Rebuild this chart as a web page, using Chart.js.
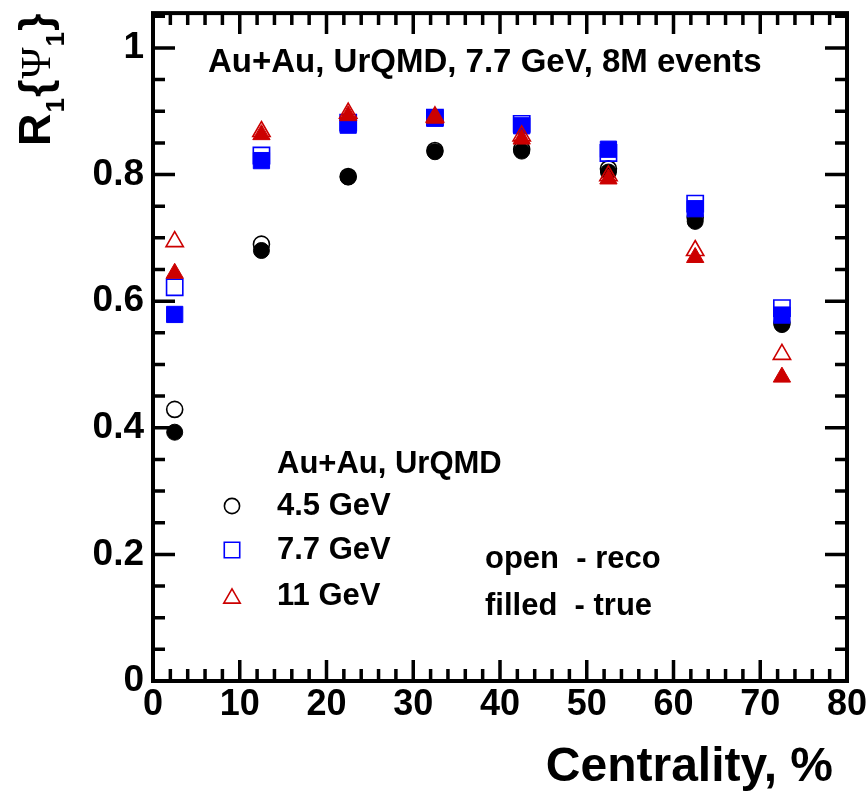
<!DOCTYPE html>
<html><head><meta charset="utf-8">
<script src="https://cdn.jsdelivr.net/npm/chart.js@4.4.1/dist/chart.umd.min.js"></script>
<style>html,body{margin:0;padding:0;background:#fff;}canvas{display:block;}</style>
</head><body>
<canvas id="c" width="868" height="792"></canvas>
<script>
// ---- data ----
const centrality = [2.5, 12.5, 22.5, 32.5, 42.5, 52.5, 62.5, 72.5];
const reco45 = [0.429, 0.690, 0.797, 0.838, 0.840, 0.809, 0.732, 0.566];
const true45 = [0.393, 0.680, 0.796, 0.836, 0.837, 0.804, 0.726, 0.563];
const reco77 = [0.622, 0.830, 0.882, 0.890, 0.880, 0.834, 0.754, 0.589];
const true77 = [0.579, 0.822, 0.878, 0.889, 0.877, 0.840, 0.746, 0.578];
const reco11 = [0.694, 0.868, 0.897, 0.891, 0.861, 0.798, 0.680, 0.516];
const true11 = [0.644, 0.863, 0.893, 0.889, 0.856, 0.793, 0.669, 0.480];
const seriesLabels = ['4.5 GeV', '7.7 GeV', '11 GeV'];
const xTickValues = [0, 10, 20, 30, 40, 50, 60, 70, 80];
const yTickValues = [0, 0.2, 0.4, 0.6, 0.8, 1];
const yTickLabels = ['0', '0.2', '0.4', '0.6', '0.8', '1'];
const xTitle = 'Centrality, %';
const plotTitle = 'Au+Au, UrQMD, 7.7 GeV, 8M events';
const legendHeader = 'Au+Au, UrQMD';
const noteLines = ['open  - reco', 'filled  - true'];

// ---- styles ----
const FONT = '"Liberation Sans", Arial, Helvetica, sans-serif';
const BLACK = '#000000', BLUE = '#0000ff', RED = '#cc0000';
const colors = [BLACK, BLUE, RED];
const styles = ['circle', 'rect', 'triangle'];
const radii = [8, 11.5, 10];

function pts(arr) { return centrality.map((x, i) => ({x: x, y: arr[i]})); }
function ds(label, arr, k, filled, order) {
  return {
    label: label, data: pts(arr), order: order,
    pointStyle: styles[k], pointRadius: radii[k], pointHoverRadius: radii[k],
    borderColor: colors[k], backgroundColor: filled ? colors[k] : 'rgba(0,0,0,0)',
    pointBorderWidth: filled ? 1 : 1.6, pointHoverBorderWidth: filled ? 1 : 1.6,
    showLine: false
  };
}
const datasets = [
  ds(seriesLabels[0] + ' true', true45, 0, true, 6),
  ds(seriesLabels[0] + ' reco', reco45, 0, false, 5),
  ds(seriesLabels[1] + ' true', true77, 1, true, 4),
  ds(seriesLabels[1] + ' reco', reco77, 1, false, 3),
  ds(seriesLabels[2] + ' true', true11, 2, true, 2),
  ds(seriesLabels[2] + ' reco', reco11, 2, false, 1)
];

// frame + inward ticks on all four sides
const framePlugin = {
  id: 'frameTicks',
  beforeDatasetsDraw(chart) {
    const {ctx, chartArea: a, scales: {x, y}} = chart;
    ctx.save();
    ctx.strokeStyle = '#000';
    ctx.lineWidth = 3.5;
    ctx.lineCap = 'butt';
    ctx.beginPath();
    for (let i = 0; i <= 40; i++) {
      const v = i * 2;
      const px = x.getPixelForValue(v);
      const len = (v % 10 === 0) ? 21 : 12;
      ctx.moveTo(px, a.bottom); ctx.lineTo(px, a.bottom - len);
      ctx.moveTo(px, a.top); ctx.lineTo(px, a.top + len);
    }
    for (let i = 0; i <= 21; i++) {
      const v = i * 0.05;
      if (v > y.max) break;
      const py = y.getPixelForValue(v);
      const len = (i % 4 === 0) ? 22 : 12;
      ctx.moveTo(a.left, py); ctx.lineTo(a.left + len, py);
      ctx.moveTo(a.right, py); ctx.lineTo(a.right - len, py);
    }
    ctx.stroke();
    ctx.lineWidth = 4;
    ctx.lineJoin = 'miter';
    ctx.strokeRect(a.left, a.top, a.right - a.left, a.bottom - a.top);
    ctx.restore();
  }
};

function txt(ctx, s, x, yc, size, align) {
  ctx.font = 'bold ' + size + 'px ' + FONT;
  ctx.textBaseline = 'alphabetic';
  ctx.textAlign = align || 'left';
  ctx.fillStyle = '#000';
  ctx.fillText(s, x, yc + 0.36 * size);
}

function marker(ctx, k, x, yc) {
  const r = radii[k] * 0.95;
  const yy = (styles[k] === 'triangle') ? yc + r / 4 : yc;
  const opts = {pointStyle: styles[k], radius: r, borderWidth: 1.6, rotation: 0};
  ctx.save();
  ctx.strokeStyle = colors[k];
  ctx.fillStyle = 'rgba(0,0,0,0)';
  ctx.lineWidth = 1.6;
  Chart.helpers.drawPoint(ctx, opts, x, yy);
  ctx.restore();
}

const textPlugin = {
  id: 'texts',
  afterDraw(chart) {
    const ctx = chart.ctx;
    ctx.save();
    txt(ctx, plotTitle, 208, 60, 33);
    txt(ctx, legendHeader, 277, 462, 31);
    const ys = [504, 548, 594];
    for (let k = 0; k < 3; k++) {
      marker(ctx, k, 232, ys[k] + 2);
      txt(ctx, seriesLabels[k], 277, ys[k], 31);
    }
    txt(ctx, noteLines[0], 485, 557, 31);
    txt(ctx, noteLines[1], 485, 604, 31);

    // x-axis title, right-aligned under the axis end
    txt(ctx, xTitle, 833, 764, 48, 'right');

    // y-axis title R_1{Psi_1}, rotated
    ctx.translate(50, 146);
    ctx.rotate(-Math.PI / 2);
    ctx.textBaseline = 'alphabetic';
    ctx.textAlign = 'left';
    ctx.fillStyle = '#000';
    const big = 'bold 45px ' + FONT;
    const sub = 'bold 26px ' + FONT;
    const psi = '42px "Liberation Serif", "DejaVu Serif", serif';
    const parts = [['R', big, 0], ['1', sub, 14], ['{', big, 0], ['\u03A8', psi, 0], ['1', sub, 14], ['}', big, 0]];
    let u = 0;
    for (const [t, f, dv] of parts) {
      ctx.font = f;
      ctx.fillText(t, u, dv);
      u += ctx.measureText(t).width + 1;
    }
    ctx.restore();
  }
};

new Chart(document.getElementById('c'), {
  type: 'scatter',
  data: {datasets: datasets},
  options: {
    responsive: false,
    animation: false,
    devicePixelRatio: 1,
    layout: {padding: {top: 8, right: 21, left: 0, bottom: 0}},
    plugins: {legend: {display: false}, tooltip: {enabled: false}},
    scales: {
      x: {
        type: 'linear', position: 'bottom', min: 0, max: 80,
        grid: {display: false, drawTicks: false},
        border: {display: false},
        afterBuildTicks: s => { s.ticks = xTickValues.map(v => ({value: v})); },
        ticks: {
          font: {family: FONT, size: 36, weight: 'bold'}, color: '#000',
          padding: 2, maxRotation: 0, autoSkip: false,
          callback: v => String(v)
        },
        title: {display: false, text: xTitle},
        afterFit: s => { s.height = 111; s.paddingLeft = 0; s.paddingRight = 0; }
      },
      y: {
        type: 'linear', position: 'left', min: 0, max: 1.055,
        grid: {display: false, drawTicks: false},
        border: {display: false},
        afterBuildTicks: s => { s.ticks = yTickValues.map(v => ({value: v})); },
        ticks: {
          font: {family: FONT, size: 37, weight: 'bold'}, color: '#000',
          padding: 9, autoSkip: false,
          callback: (v, i) => yTickLabels[i]
        },
        afterFit: s => { s.width = 153; s.paddingTop = 0; s.paddingBottom = 0; }
      }
    }
  },
  plugins: [framePlugin, textPlugin]
});
</script>
</body></html>
